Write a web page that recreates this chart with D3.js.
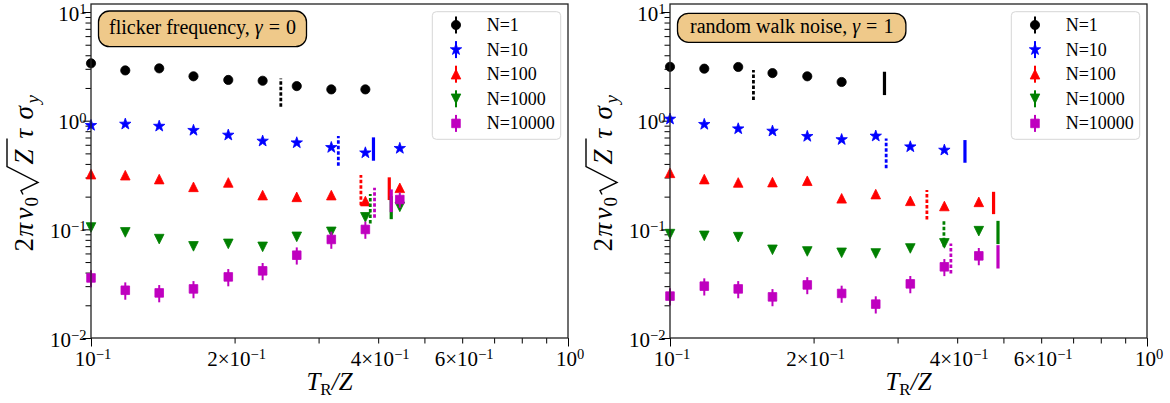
<!DOCTYPE html>
<html><head><meta charset="utf-8">
<script src="https://cdn.jsdelivr.net/npm/d3@7"></script>
<style>body{margin:0;background:#fff} svg{display:block} text{font-family:"Liberation Serif","Times New Roman",serif;fill:#000}</style>
</head><body>
<svg id="c" width="1170" height="403"></svg>
<script>
// ---------------- data ----------------
const xValues = [0.100, 0.118, 0.139, 0.164, 0.194, 0.229, 0.270, 0.319, 0.376, 0.444];
const seriesNames = ["N=1", "N=10", "N=100", "N=1000", "N=10000"];

// panel 1 : flicker frequency, gamma = 0
const flickerN1     = [3.37, 2.90, 3.03, 2.56, 2.37, 2.33, 2.08, 1.94, 1.94];
const flickerN10    = [0.905, 0.93, 0.89, 0.815, 0.737, 0.649, 0.626, 0.567, 0.506, 0.556];
const flickerN100   = [0.322, 0.315, 0.290, 0.246, 0.270, 0.2065, 0.199, 0.2065, 0.182, 0.241];
const flickerN1000  = [0.104, 0.0937, 0.0813, 0.0697, 0.0735, 0.069, 0.0853, 0.0948, 0.129, 0.161];
const flickerN10000 = [0.0357, 0.0275, 0.0260, 0.0283, 0.0365, 0.0415, 0.0578, 0.0807, 0.0998, 0.188];
const flickerErr10000 = [0.0064, 0.0050, 0.0047, 0.0051, 0.0066, 0.0075, 0.0104, 0.0145, 0.0180, 0.0300];
// vertical markers [x, low, high] per series (null = none)
const flickerDashed = [[0.250, 1.34, 2.45], [0.330, 0.385, 0.722], [0.368, 0.167, 0.316], [0.385, 0.113, 0.211], [0.393, 0.128, 0.241]];
const flickerSolid  = [null, [0.391, 0.428, 0.702], [0.422, 0.186, 0.301], [0.426, 0.124, 0.202], [0.426, 0.144, 0.233]];

// panel 2 : random walk noise, gamma = 1
const randomN1     = [3.13, 3.01, 3.12, 2.74, 2.56, 2.27];
const randomN10    = [1.035, 0.925, 0.842, 0.802, 0.717, 0.670, 0.722, 0.575, 0.536];
const randomN100   = [0.331, 0.290, 0.270, 0.272, 0.280, 0.193, 0.211, 0.183, 0.164, 0.179];
const randomN1000  = [0.0904, 0.0871, 0.0848, 0.0648, 0.0626, 0.0608, 0.0600, 0.0667, 0.0742, 0.0962];
const randomN10000 = [0.0243, 0.0300, 0.0283, 0.0239, 0.0308, 0.0257, 0.0205, 0.0315, 0.0452, 0.0570];
const randomErr10000 = [0.0044, 0.0054, 0.0051, 0.0043, 0.0055, 0.0046, 0.0037, 0.0057, 0.0081, 0.0103];
const randomDashed = [[0.1496, 1.55, 2.92], [0.2839, 0.364, 0.687], [0.3456, 0.1233, 0.2296], [0.3752, 0.069, 0.123], [0.388, 0.0393, 0.0742]];
const randomSolid  = [[0.2816, 1.72, 2.82], [0.4153, 0.410, 0.663], [0.4768, 0.138, 0.2215], [0.4871, 0.0731, 0.1197], [0.4871, 0.0436, 0.0715]];

// axes ticks
const yMajorTicks = [0.01, 0.1, 1, 10];
const yTickLabels = [["10", "\u22122"], ["10", "\u22121"], ["10", "0"], ["10", "1"]];
const yMinorTicks = [0.02,0.03,0.04,0.05,0.06,0.07,0.08,0.09,0.2,0.3,0.4,0.5,0.6,0.7,0.8,0.9,2,3,4,5,6,7,8,9];
const xMajorTicks = [0.1, 1];
const xMinorTicks = [0.2, 0.3, 0.4, 0.5, 0.6, 0.7, 0.8, 0.9];
const xLabelValues = [0.1, 0.2, 0.4, 0.6, 1];
const xTickLabels = [["", "10", "\u22121"], ["2\u00d7", "10", "\u22121"], ["4\u00d7", "10", "\u22121"], ["6\u00d7", "10", "\u22121"], ["", "10", "0"]];

// ---------------- styles ----------------
const colors = ["#000000", "#0000ff", "#ff0000", "#008000", "#bf00bf"];
const markers = ["circle", "star", "triUp", "triDown", "square"];

const panels = [
  {left: 91, right: 568, text: "flicker frequency,", gamma: "0",
   series: [flickerN1, flickerN10, flickerN100, flickerN1000, flickerN10000],
   err: flickerErr10000, dashed: flickerDashed, solid: flickerSolid, boxTop: 11, boxBot: 46.7, boxW: 208},
  {left: 670, right: 1147, text: "random walk noise,", gamma: "1",
   series: [randomN1, randomN10, randomN100, randomN1000, randomN10000],
   err: randomErr10000, dashed: randomDashed, solid: randomSolid, boxTop: 13.3, boxBot: 42.3, boxW: 228.4}
];

const TOP = 4, BOTTOM = 338;
const svg = d3.select("#c");

function markerPath(type) {
  if (type === "star") {
    const R = 6.0, r = R * 0.40; let p = [];
    for (let i = 0; i < 10; i++) {
      const a = -Math.PI / 2 + i * Math.PI / 5, rr = i % 2 ? r : R;
      p.push([rr * Math.cos(a), rr * Math.sin(a)]);
    }
    return "M" + p.map(q => q[0].toFixed(2) + "," + q[1].toFixed(2)).join("L") + "Z";
  }
  const s = 4.8;
  if (type === "triUp") return `M0,${-s}L${s},${s}L${-s},${s}Z`;
  if (type === "triDown") return `M0,${s}L${s},${-s}L${-s},${-s}Z`;
  if (type === "square") return "M-4.3,-4.3L4.3,-4.3L4.3,4.3L-4.3,4.3Z";
  return d3.symbol(d3.symbolCircle, Math.PI * 4.6 * 4.6)();
}

panels.forEach(P => {
  const x = d3.scaleLog().domain([0.1, 1]).range([P.left, P.right]);
  const y = d3.scaleLog().domain([0.01, Math.pow(10, 1.0737)]).range([BOTTOM, TOP]);
  const g = svg.append("g");

  // ticks
  const ax = (gen, vals, size, tr) => {
    const a = g.append("g").attr("transform", tr)
      .call(gen.tickValues(vals).tickSize(size).tickFormat(""));
    a.select(".domain").remove();
    a.selectAll("line").attr("stroke", "#000").attr("stroke-width", 1);
  };
  ax(d3.axisLeft(y), yMajorTicks, 8.5, `translate(${P.left},0)`);
  ax(d3.axisLeft(y), yMinorTicks, 5.5, `translate(${P.left},0)`);
  ax(d3.axisBottom(x), xMajorTicks, 8.5, `translate(0,${BOTTOM})`);
  ax(d3.axisBottom(x), xMinorTicks, 5.5, `translate(0,${BOTTOM})`);

  // y tick labels
  yMajorTicks.forEach((v, i) => {
    const t = g.append("text").attr("x", P.left - 4.5).attr("y", y(v) + 8.5)
      .attr("text-anchor", "end").style("font-size", "21px");
    t.append("tspan").text(yTickLabels[i][0]);
    t.append("tspan").attr("dy", -6.5).style("font-size", "14.5px").text(yTickLabels[i][1]);
  });
  // x tick labels
  xLabelValues.forEach((v, i) => {
    const t = g.append("text").attr("x", x(v) + 2).attr("y", 365.5)
      .attr("text-anchor", "middle").style("font-size", "21px");
    t.append("tspan").text(xTickLabels[i][0] + xTickLabels[i][1]);
    t.append("tspan").attr("dy", -7).style("font-size", "14.5px").text(xTickLabels[i][2]);
  });

  // x label
  const xl = g.append("text").attr("x", (P.left + P.right) / 2).attr("y", 390)
    .attr("text-anchor", "middle").style("font-size", "25px");
  xl.append("tspan").style("font-style", "italic").text("T");
  xl.append("tspan").attr("dy", 5).style("font-size", "17px").text("R");
  xl.append("tspan").attr("dy", -5).style("font-style", "italic").text("/Z");

  // y label (math), rotated
  const cy = (TOP + BOTTOM) / 2 + 1.5;
  const yl = g.append("g").attr("transform", `translate(${P.left - 58},${cy + 80}) rotate(-90)`);
  const piece = (txt, px, it, fs, dy) => yl.append("text").attr("x", px).attr("y", dy || 0)
    .style("font-size", (fs || 27) + "px").style("font-style", it ? "italic" : "normal").text(txt);
  piece("2", 1, false);
  piece("\u03c0", 16, true);
  piece("\u03bd", 33, true);
  piece("0", 46, false, 19, 5);
  yl.append("path").attr("d", "M58,-10L62,-12L70,5L86,-26L114,-26")
    .attr("fill", "none").attr("stroke", "#000").attr("stroke-width", 1.4);
  piece("Z", 88, true);
  piece("\u03c4", 114, true);
  piece("\u03c3", 133, true);
  piece("y", 149, true, 19, 6);

  // annotation box
  const tg = g.append("g");
  tg.append("rect").attr("x", P.left + 7.5).attr("y", P.boxTop)
    .attr("width", P.boxW).attr("height", P.boxBot - P.boxTop)
    .attr("rx", 11).attr("ry", 11)
    .attr("fill", "#efc98a").attr("stroke", "#000").attr("stroke-width", 1.3);
  const at = tg.append("text").attr("x", P.left + 7.5 + P.boxW / 2).attr("y", (P.boxTop + P.boxBot) / 2 + 5)
    .attr("text-anchor", "middle").style("font-size", "20px");
  at.append("tspan").text(P.text);
  at.append("tspan").attr("dx", 5).style("font-style", "italic").text("\u03b3");
  at.append("tspan").attr("dx", 6).text("=");
  at.append("tspan").attr("dx", 6).text(P.gamma);

  // data
  P.series.forEach((vals, si) => {
    const sg = g.append("g");
    if (si === 4) {
      sg.selectAll("line.err").data(vals).join("line")
        .attr("x1", (d, i) => x(xValues[i])).attr("x2", (d, i) => x(xValues[i]))
        .attr("y1", (d, i) => y(d - P.err[i])).attr("y2", (d, i) => y(d + P.err[i]))
        .attr("stroke", colors[si]).attr("stroke-width", 2);
    }
    sg.selectAll("path.m").data(vals).join("path")
      .attr("transform", (d, i) => `translate(${x(xValues[i])},${y(d)})`)
      .attr("d", markerPath(markers[si]))
      .attr("fill", colors[si]).attr("stroke", colors[si]).attr("stroke-width", 0.8);
    const dd = P.dashed[si], ss = P.solid[si];
    if (dd) sg.append("line").attr("x1", x(dd[0])).attr("x2", x(dd[0])).attr("y1", y(dd[1])).attr("y2", y(dd[2]))
      .attr("stroke", colors[si]).attr("stroke-width", 2.8).attr("stroke-dasharray", "3.5,2");
    if (ss) sg.append("line").attr("x1", x(ss[0])).attr("x2", x(ss[0])).attr("y1", y(ss[1])).attr("y2", y(ss[2]))
      .attr("stroke", colors[si]).attr("stroke-width", 3.2);
  });

  // frame
  g.append("rect").attr("x", P.left).attr("y", TOP).attr("width", P.right - P.left).attr("height", BOTTOM - TOP)
    .attr("fill", "none").attr("stroke", "#222").attr("stroke-width", 1.3);

  // legend
  const lx = P.right - 135.7, ly = 11.7;
  const lg = g.append("g").attr("transform", `translate(${lx},${ly})`);
  lg.append("rect").attr("width", 128.4).attr("height", 127.6).attr("rx", 4)
    .attr("fill", "#fff").attr("fill-opacity", 0.8).attr("stroke", "#d6d6d6").attr("stroke-width", 1);
  seriesNames.forEach((nm, si) => {
    const ry = 13.3 + si * 24.6;
    lg.append("line").attr("x1", 23.7).attr("x2", 23.7).attr("y1", ry - 8.5).attr("y2", ry + 8.5)
      .attr("stroke", colors[si]).attr("stroke-width", 2);
    lg.append("path").attr("transform", `translate(23.7,${ry})`).attr("d", markerPath(markers[si]))
      .attr("fill", colors[si]).attr("stroke", colors[si]).attr("stroke-width", 0.8);
    lg.append("text").attr("x", 54.4).attr("y", ry + 6).style("font-size", "18px").text(nm);
  });
});
</script>
</body></html>
